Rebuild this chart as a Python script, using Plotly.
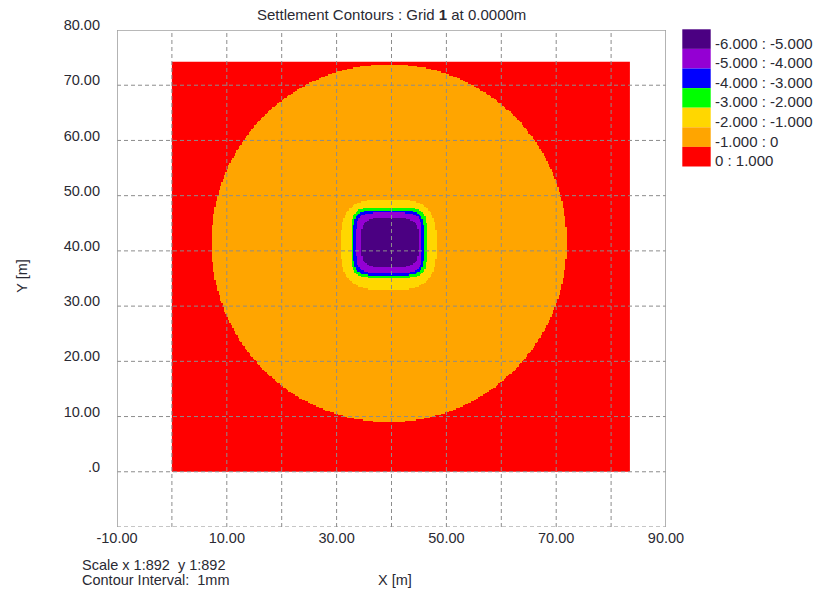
import numpy as np
import plotly.graph_objects as go

# ---- legend / contour bands (mm) ----
band_labels = ["-6.000 : -5.000", "-5.000 : -4.000", "-4.000 : -3.000",
               "-3.000 : -2.000", "-2.000 : -1.000", "-1.000 : 0", "0 : 1.000"]
band_lower = [-6, -5, -4, -3, -2, -1, 0]
band_colors = ["#4B0082", "#9400D3", "#0000FF", "#00FF00", "#FFD700", "#FFA500", "#FF0000"]

# ---- calculation grid ----
grid_x_range = [0.0, 83.5]
grid_y_range = [0.0, 74.25]
cell_size = 0.25

# -1..0 mm settlement bowl (circular)
bowl_center = [39.6, 41.4]
bowl_radius = 32.4

# inner settlement zones under the loaded area (rounded squares)
zone_level = [-2, -3, -4, -5, -6]
zone_cx = [39.5, 39.55, 39.5, 39.6, 39.75]
zone_cy = [41.15, 41.45, 41.45, 41.45, 41.5]
zone_half_w = [8.7, 6.9, 6.45, 6.0, 5.25]
zone_half_h = [8.2, 6.4, 5.9, 5.45, 4.5]
zone_shape = [3.2, 5.0, 5.0, 5.0, 4.0]

# ---- axes ----
x_tick_vals = [-10, 10, 30, 50, 70, 90]
x_tick_text = ["-10.00", "10.00", "30.00", "50.00", "70.00", "90.00"]
y_tick_vals = [0, 10, 20, 30, 40, 50, 60, 70, 80]
y_tick_text = [".0", "10.00", "20.00", "30.00", "40.00", "50.00", "60.00", "70.00", "80.00"]
x_grid = [0, 10, 20, 30, 40, 50, 60, 70, 80]
y_grid = [-10, 0, 10, 20, 30, 40, 50, 60, 70]
x_range = [-10, 90]
y_range = [-10, 80]

# build settlement field: each cell gets the mid value of its band
xc = np.arange(grid_x_range[0] + cell_size / 2, grid_x_range[1], cell_size)
yc = np.arange(grid_y_range[0] + cell_size / 2, grid_y_range[1], cell_size)
X, Y = np.meshgrid(xc, yc)
Z = np.full(X.shape, band_lower[-1] + 0.5)
inside_bowl = (X - bowl_center[0]) ** 2 + (Y - bowl_center[1]) ** 2 <= bowl_radius ** 2
Z[inside_bowl] = -1 + 0.5
for lvl, cx, cy, a, b, p in zip(zone_level, zone_cx, zone_cy, zone_half_w, zone_half_h, zone_shape):
    m = np.abs((X - cx) / a) ** p + np.abs((Y - cy) / b) ** p <= 1.0
    Z[m] = lvl + 0.5

zmin, zmax = band_lower[0], band_lower[-1] + 1
n = len(band_colors)
colorscale = []
for i, c in enumerate(band_colors):
    colorscale.append([i / n, c])
    colorscale.append([(i + 1) / n, c])

fig = go.Figure()
fig.add_trace(go.Heatmap(x=xc, y=yc, z=Z, zmin=zmin, zmax=zmax,
                         colorscale=colorscale, showscale=False, hoverinfo="skip"))

FONT = "Liberation Sans, Arial, sans-serif"
TXT = "#2a2a33"
W, H = 816, 593
L, R, T, B = 117, 666, 30, 527  # plot area in pixels


def px_x(p):
    return (p - L) / (R - L)


def px_y(p):
    return (B - p) / (B - T)


shapes = []
grid_style = dict(color="#8c8c8c", width=1, dash="4px,3px")
for gx in x_grid:
    shapes.append(dict(type="line", xref="x", yref="y", x0=gx, x1=gx,
                       y0=y_range[0], y1=y_range[1], line=grid_style, layer="above"))
for gy in y_grid:
    shapes.append(dict(type="line", xref="x", yref="y", x0=x_range[0], x1=x_range[1],
                       y0=gy, y1=gy, line=grid_style, layer="above"))
frame = dict(color="#a0a0a0", width=1.6)
shapes.append(dict(type="line", xref="x", yref="y", x0=x_range[0], x1=x_range[0],
                   y0=y_range[0], y1=y_range[1], line=frame, layer="above"))
shapes.append(dict(type="line", xref="x", yref="y", x0=x_range[1], x1=x_range[1],
                   y0=y_range[0], y1=y_range[1], line=frame, layer="above"))
shapes.append(dict(type="line", xref="x", yref="y", x0=x_range[0], x1=x_range[1],
                   y0=y_range[1], y1=y_range[1], line=frame, layer="above"))

# legend boxes (top = highest settlement)
annotations = []
row_h = 19.6
box_top = 29.3
for i, (lab, col) in enumerate(zip(band_labels, band_colors)):
    y0 = box_top + i * row_h
    shapes.append(dict(type="rect", xref="paper", yref="paper",
                       x0=px_x(682.3), x1=px_x(710.7), y0=px_y(y0 + row_h), y1=px_y(y0),
                       fillcolor=col, line=dict(width=0), layer="above"))
    annotations.append(dict(text=lab, xref="paper", yref="paper", x=px_x(712.5),
                            y=px_y(y0 + row_h / 2 + 4), xanchor="left", yanchor="middle",
                            showarrow=False, font=dict(family=FONT, size=15, color=TXT)))

annotations += [
    dict(text="Settlement Contours : Grid <b>1</b> at 0.0000m", xref="paper", yref="paper",
         x=px_x(391), y=px_y(14), xanchor="center", yanchor="middle", showarrow=False,
         font=dict(family=FONT, size=15, color=TXT)),
    dict(text="Y [m]", xref="paper", yref="paper", x=px_x(21.7), y=px_y(276),
         xanchor="center", yanchor="middle", textangle=-90, showarrow=False,
         font=dict(family=FONT, size=14.5, color=TXT)),
    dict(text="X [m]", xref="paper", yref="paper", x=px_x(395), y=px_y(580),
         xanchor="center", yanchor="middle", showarrow=False,
         font=dict(family=FONT, size=14.5, color=TXT)),
    dict(text="Scale x 1:892  y 1:892", xref="paper", yref="paper", x=px_x(80), y=px_y(565),
         xanchor="left", yanchor="middle", showarrow=False,
         font=dict(family=FONT, size=14.5, color=TXT)),
    dict(text="Contour Interval:  1mm", xref="paper", yref="paper", x=px_x(80), y=px_y(580),
         xanchor="left", yanchor="middle", showarrow=False,
         font=dict(family=FONT, size=14.5, color=TXT)),
]

fig.update_layout(
    width=W, height=H,
    margin=dict(l=L, r=W - R, t=T, b=H - B, pad=0),
    paper_bgcolor="white", plot_bgcolor="white",
    showlegend=False,
    shapes=shapes, annotations=annotations,
    xaxis=dict(range=x_range, tickvals=x_tick_vals, ticktext=x_tick_text,
               showgrid=False, zeroline=False, showline=False, ticks="",
               tickfont=dict(family=FONT, size=14.5, color=TXT), ticklabelstandoff=0),
    yaxis=dict(range=y_range, tickvals=y_tick_vals, ticktext=y_tick_text,
               showgrid=False, zeroline=False, showline=False, ticks="",
               tickfont=dict(family=FONT, size=14.5, color=TXT),
               ticklabelstandoff=16, ticklabelshift=-5),
)

fig.write_html("out.html")
